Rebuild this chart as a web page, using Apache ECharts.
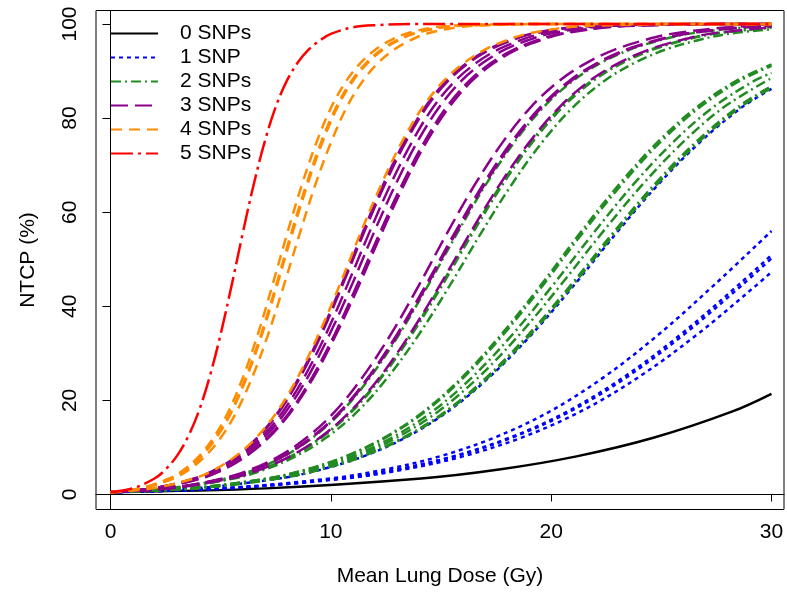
<!DOCTYPE html>
<html>
<head>
<meta charset="utf-8">
<script src="https://cdn.jsdelivr.net/npm/echarts@6/dist/echarts.min.js"></script>
<style>html,body{margin:0;padding:0;background:#fff}#c{width:787px;height:595px}</style>
</head>
<body>
<div id="c"></div>
<script>
// NTCP levels (%) shared by all curves; each curve lists the dose (Gy) at which it reaches each level,
// followed by its NTCP value at 30 Gy.
const ntcpLevels = [0.5, 1.3, 3.4, 5.3, 8.1, 12.1, 17.6, 25.0, 34.1, 44.5, 55.5, 65.9, 75.0, 82.4, 87.9, 91.8, 94.6, 96.5, 97.9, 99.3, 99.75, 100];

const xTicks = [0, 10, 20, 30];
const yTicks = [0, 20, 40, 60, 80, 100];
const groupNames = ['0 SNPs', '1 SNP', '2 SNPs', '3 SNPs', '4 SNPs', '5 SNPs'];

const snp0Doses = [
  [0, 7.05, 14.10, 17.63, 21.15, 24.68, 28.20]
];
const snp0At30 = [21.4];

const snp1Doses = [
  [0, 4.98, 9.96, 12.45, 14.94, 17.43, 19.92, 22.41, 24.90, 27.39],
  [0, 5.18, 10.36, 12.95, 15.54, 18.13, 20.72, 23.31, 25.90, 28.49],
  [0, 5.21, 10.42, 13.03, 15.63, 18.24, 20.84, 23.45, 26.05, 28.66],
  [0, 5.33, 10.66, 13.33, 15.99, 18.66, 21.32, 23.99, 26.65, 29.32],
  [0, 3.83, 7.65, 9.56, 11.48, 13.39, 15.30, 17.21, 19.13, 21.04, 22.95, 24.86, 26.78, 28.69]
];
const snp1At30 = [56.0, 50.9, 50.2, 47.3, 86.2];

const snp2Doses = [
  [0, 3.55, 7.10, 8.88, 10.65, 12.43, 14.20, 15.98, 17.75, 19.53, 21.30, 23.08, 24.85, 26.63, 28.40],
  [0, 3.57, 7.14, 8.92, 10.71, 12.49, 14.28, 16.06, 17.85, 19.63, 21.41, 23.20, 24.98, 26.77, 28.55],
  [0, 3.65, 7.30, 9.13, 10.95, 12.78, 14.60, 16.43, 18.26, 20.08, 21.91, 23.73, 25.56, 27.38, 29.21],
  [0, 3.72, 7.43, 9.29, 11.15, 13.00, 14.86, 16.72, 18.58, 20.43, 22.29, 24.15, 26.01, 27.86],
  [0, 3.80, 7.60, 9.50, 11.39, 13.29, 15.19, 17.09, 18.99, 20.89, 22.79, 24.69, 26.59, 28.49],
  [0, 3.82, 7.63, 9.54, 11.45, 13.35, 15.26, 17.17, 19.08, 20.98, 22.89, 24.80, 26.71, 28.61],
  [0, 2.62, 5.24, 6.56, 7.87, 9.18, 10.49, 11.80, 13.11, 14.42, 15.73, 17.04, 18.35, 19.67, 20.98, 22.29, 23.60, 24.91, 26.22, 28.84],
  [0, 2.73, 5.46, 6.82, 8.18, 9.55, 10.91, 12.28, 13.64, 15.00, 16.37, 17.73, 19.10, 20.46, 21.82, 23.19, 24.55, 25.92, 27.28],
  [0, 2.74, 5.48, 6.85, 8.21, 9.58, 10.95, 12.32, 13.69, 15.06, 16.43, 17.80, 19.17, 20.54, 21.90, 23.27, 24.64, 26.01, 27.38],
  [0, 2.80, 5.60, 7.00, 8.40, 9.80, 11.20, 12.60, 14.01, 15.41, 16.81, 18.21, 19.61, 21.01, 22.41, 23.81, 25.21, 26.61, 28.01]
];
const snp2At30 = [91.4, 91.1, 89.6, 88.5, 86.8, 86.4, 99.5, 99.3, 99.25, 98.9];

const snp3Doses = [
  [0, 2.55, 5.09, 6.36, 7.64, 8.91, 10.18, 11.45, 12.73, 14.00, 15.27, 16.54, 17.82, 19.09, 20.36, 21.63, 22.91, 24.18, 25.45, 28.00],
  [0, 2.60, 5.20, 6.51, 7.81, 9.11, 10.41, 11.71, 13.01, 14.31, 15.61, 16.91, 18.21, 19.52, 20.82, 22.12, 23.42, 24.72, 26.02, 28.62],
  [0, 2.61, 5.22, 6.53, 7.84, 9.14, 10.45, 11.75, 13.06, 14.37, 15.67, 16.98, 18.28, 19.59, 20.90, 22.20, 23.51, 24.81, 26.12, 28.73],
  [0, 2.72, 5.44, 6.80, 8.15, 9.51, 10.87, 12.23, 13.59, 14.95, 16.31, 17.67, 19.03, 20.39, 21.74, 23.10, 24.46, 25.82, 27.18],
  [0, 1.91, 3.81, 4.76, 5.72, 6.67, 7.62, 8.57, 9.53, 10.48, 11.43, 12.38, 13.34, 14.29, 15.24, 16.19, 17.15, 18.10, 19.05, 20.96, 22.86, 26.67],
  [0, 1.92, 3.83, 4.79, 5.75, 6.70, 7.66, 8.62, 9.58, 10.53, 11.49, 12.45, 13.41, 14.36, 15.32, 16.28, 17.24, 18.19, 19.15, 21.07, 22.98, 26.81],
  [0, 1.96, 3.91, 4.89, 5.87, 6.84, 7.82, 8.80, 9.78, 10.75, 11.73, 12.71, 13.69, 14.66, 15.64, 16.62, 17.60, 18.57, 19.55, 21.51, 23.46, 27.37],
  [0, 1.99, 3.98, 4.98, 5.97, 6.97, 7.96, 8.96, 9.95, 10.95, 11.94, 12.94, 13.93, 14.93, 15.92, 16.92, 17.91, 18.91, 19.90, 21.89, 23.88, 27.86],
  [0, 2.04, 4.07, 5.09, 6.11, 7.12, 8.14, 9.16, 10.18, 11.19, 12.21, 13.23, 14.25, 15.26, 16.28, 17.30, 18.32, 19.33, 20.35, 22.39, 24.42, 28.49],
  [0, 2.05, 4.10, 5.13, 6.15, 7.18, 8.20, 9.23, 10.25, 11.28, 12.30, 13.33, 14.35, 15.38, 16.40, 17.43, 18.45, 19.48, 20.50, 22.55, 24.60, 28.70]
];
const snp3At30 = [99.65, 99.5, 99.5, 99.3, 100, 100, 100, 100, 100, 100];

const snp4Doses = [
  [0, 1.34, 2.67, 3.34, 4.01, 4.68, 5.35, 6.02, 6.69, 7.35, 8.02, 8.69, 9.36, 10.03, 10.70, 11.36, 12.03, 12.70, 13.37, 14.71, 16.04, 18.72],
  [0, 1.37, 2.73, 3.42, 4.10, 4.78, 5.47, 6.15, 6.84, 7.52, 8.20, 8.89, 9.57, 10.25, 10.94, 11.62, 12.30, 12.99, 13.67, 15.04, 16.40, 19.14],
  [0, 1.38, 2.75, 3.44, 4.13, 4.81, 5.50, 6.19, 6.88, 7.56, 8.25, 8.94, 9.63, 10.31, 11.00, 11.69, 12.38, 13.06, 13.75, 15.13, 16.50, 19.25],
  [0, 1.43, 2.86, 3.58, 4.29, 5.01, 5.72, 6.44, 7.16, 7.87, 8.59, 9.30, 10.02, 10.73, 11.45, 12.16, 12.88, 13.59, 14.31, 15.74, 17.17, 20.03],
  [0, 1.89, 3.78, 4.73, 5.67, 6.62, 7.56, 8.51, 9.45, 10.40, 11.34, 12.29, 13.23, 14.18, 15.12, 16.07, 17.01, 17.96, 18.90, 20.79, 22.68, 26.46]
];
const snp4At30 = [100, 100, 100, 100, 100];

const snp5Doses = [
  [0, 1, 2, 2.5, 3, 3.5, 4, 4.5, 5, 5.5, 6, 6.5, 7, 7.5, 8, 8.5, 9, 9.5, 10, 11, 12, 14]
];
const snp5At30 = [100];

const FONT = '"Liberation Sans", Arial, Helvetica, sans-serif';

const groups = [
  { name: groupNames[0], doses: snp0Doses, ends: snp0At30, color: '#000000', dash: 'solid' },
  { name: groupNames[1], doses: snp1Doses, ends: snp1At30, color: '#0000FF', dash: [4, 4] },
  { name: groupNames[2], doses: snp2Doses, ends: snp2At30, color: '#228B22', dash: [10, 4, 2, 4] },
  { name: groupNames[3], doses: snp3Doses, ends: snp3At30, color: '#8B008B', dash: [17, 7] },
  { name: groupNames[4], doses: snp4Doses, ends: snp4At30, color: '#FF8C00', dash: [11, 7] },
  { name: groupNames[5], doses: snp5Doses, ends: snp5At30, color: '#FF0000', dash: [22, 5, 3, 5] }
];

const series = [];
groups.forEach(g => {
  g.doses.forEach((doses, ci) => {
    const data = doses.map((d, i) => [d, ntcpLevels[i]]);
    data.push([30, g.ends[ci]]);
    series.push({
      type: 'line',
      name: g.name,
      data: data,
      smooth: 0.35,
      symbol: 'none',
      silent: true,
      color: g.color,
      lineStyle: { color: g.color, width: 2.5, type: g.dash, cap: 'butt' }
    });
  });
});

const chart = echarts.init(document.getElementById('c'), null, { renderer: 'canvas' });
chart.setOption({
  animation: false,
  backgroundColor: '#ffffff',
  grid: { left: 96, right: 3, top: 10.5, bottom: 85.5, show: true, borderColor: '#000', borderWidth: 1, backgroundColor: 'transparent' },
  legend: {
    data: groupNames,
    orient: 'vertical',
    left: 110,
    top: 23,
    padding: 0,
    itemWidth: 47,
    itemHeight: 14,
    itemGap: 3,
    itemStyle: { color: 'transparent', borderColor: 'transparent', borderWidth: 0, opacity: 0 },
    textStyle: { fontSize: 21, color: '#000', fontFamily: FONT, padding: [0, 0, 0, 17] }
  },
  xAxis: {
    type: 'value',
    min: -0.658,
    max: 30.567,
    splitLine: { show: false },
    axisLine: { show: true, lineStyle: { color: '#000', width: 1 } },
    axisTick: { show: true, customValues: xTicks, length: 7, lineStyle: { color: '#000' } },
    axisLabel: { customValues: xTicks, fontSize: 21, color: '#000', margin: 12, fontFamily: FONT },
    name: 'Mean Lung Dose (Gy)',
    nameLocation: 'middle',
    nameGap: 56,
    nameTextStyle: { fontSize: 21, color: '#000', fontFamily: FONT }
  },
  yAxis: {
    type: 'value',
    min: -3.19,
    max: 102.87,
    splitLine: { show: false },
    axisLine: { show: true, lineStyle: { color: '#000', width: 1 } },
    axisTick: { show: true, customValues: yTicks, length: 8, lineStyle: { color: '#000' } },
    axisLabel: { customValues: yTicks, fontSize: 21, color: '#000', margin: 15, rotate: 90, fontFamily: FONT },
    name: 'NTCP (%)',
    nameLocation: 'middle',
    nameGap: 57,
    nameRotate: 90,
    nameTextStyle: { fontSize: 21, color: '#000', fontFamily: FONT }
  },
  series: series
});
</script>
</body>
</html>
